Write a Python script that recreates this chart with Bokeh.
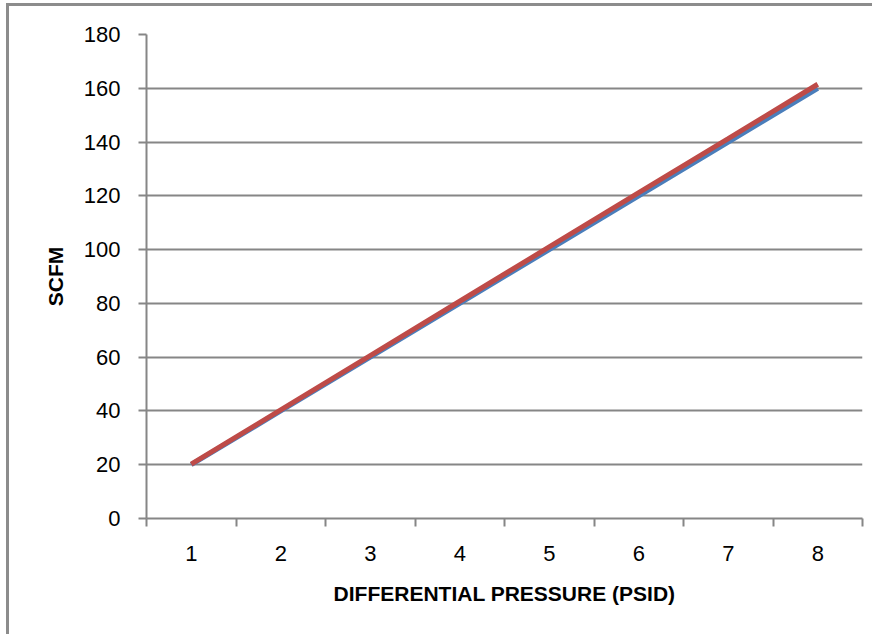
from bokeh.plotting import figure
from bokeh.models import Range1d, FixedTicker
from bokeh.embed import file_html
from bokeh.resources import INLINE

# ---- data ----
x_categories = [1, 2, 3, 4, 5, 6, 7, 8]
x_tick_labels = ["1", "2", "3", "4", "5", "6", "7", "8"]
scfm_blue = [20, 40, 60, 80, 100, 120, 140, 160]
scfm_red = [20.2, 40.4, 60.6, 80.8, 101.0, 121.2, 141.3, 161.5]
y_ticks = [0, 20, 40, 60, 80, 100, 120, 140, 160, 180]
x_title = "DIFFERENTIAL PRESSURE (PSID)"
y_title = "SCFM"

GRAY = "#868686"
FONT = "Liberation Sans"

p = figure(
    output_backend="svg",
    toolbar_location=None,
    frame_width=716,
    frame_height=484,
    min_border_left=137,
    min_border_right=10,
    min_border_top=28,
    min_border_bottom=116,
    x_range=Range1d(0.5, 8.5),
    y_range=Range1d(0, 180),
    background_fill_color="white",
    border_fill_color="white",
    outline_line_color=None,
    styles={"border-left": "3px solid #8c8c8c", "border-top": "3px solid #8c8c8c",
            "margin-left": "6px", "margin-top": "3px"},
)

p.line(x_categories, scfm_blue, line_color="#4a7ebb", line_width=5)
p.line(x_categories, scfm_red, line_color="#be4b48", line_width=5)

# x axis: labels at categories, tick marks between categories
xa = p.xaxis[0]
xa.ticker = FixedTicker(ticks=x_categories,
                        minor_ticks=[c - 0.5 for c in x_categories] + [x_categories[-1] + 0.5])
xa.major_label_overrides = {c: l for c, l in zip(x_categories, x_tick_labels)}
xa.major_tick_out = 0
xa.major_tick_in = 0
xa.minor_tick_out = 8
xa.minor_tick_in = 0
xa.minor_tick_line_color = GRAY
xa.minor_tick_line_width = 2
xa.axis_line_color = GRAY
xa.axis_line_width = 2
xa.major_label_text_font = FONT
xa.major_label_text_font_size = "22px"
xa.major_label_text_color = "black"
xa.major_label_standoff = 19
xa.axis_label = x_title
xa.axis_label_text_font = FONT
xa.axis_label_text_font_style = "bold"
xa.axis_label_text_font_size = "21px"
xa.axis_label_text_color = "black"
xa.axis_label_standoff = 18

ya = p.yaxis[0]
ya.ticker = FixedTicker(ticks=y_ticks)
ya.major_tick_out = 8
ya.major_tick_in = 0
ya.minor_tick_out = 0
ya.minor_tick_in = 0
ya.major_tick_line_color = GRAY
ya.major_tick_line_width = 2
ya.axis_line_color = GRAY
ya.axis_line_width = 2
ya.major_label_text_font = FONT
ya.major_label_text_font_size = "22px"
ya.major_label_text_color = "black"
ya.major_label_standoff = 18
ya.axis_label = y_title
ya.axis_label_text_font = FONT
ya.axis_label_text_font_style = "bold"
ya.axis_label_text_font_size = "21px"
ya.axis_label_text_color = "black"
ya.axis_label_standoff = 14

p.xgrid.grid_line_color = None
p.ygrid.ticker = FixedTicker(ticks=y_ticks)
p.ygrid.grid_line_color = GRAY
p.ygrid.grid_line_width = 2

open("out.html", "w").write(file_html(p, INLINE))
